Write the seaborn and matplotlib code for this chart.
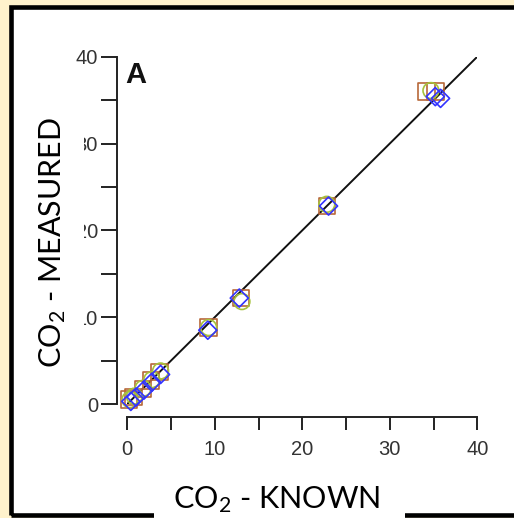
import matplotlib
matplotlib.use("Agg")
import matplotlib.pyplot as plt
import seaborn as sns
import numpy as np
import pandas as pd
from matplotlib.patches import Rectangle
from matplotlib.ticker import FixedLocator

# ---- data ----
sq_known = [0.2, 0.7, 1.8, 2.7, 3.7, 9.3, 13.0, 22.8, 34.2, 35.2]
sq_meas = [0.5, 0.8, 1.7, 2.7, 3.7, 8.8, 12.2, 22.8, 36.0, 36.0]
ci_known = [0.3, 0.8, 1.8, 2.8, 3.8, 9.3, 13.1, 22.8, 34.7]
ci_meas = [0.5, 0.9, 1.8, 2.8, 3.8, 8.8, 11.8, 23.0, 36.1]
di_known = [0.4, 1.0, 1.9, 2.8, 3.8, 9.2, 12.8, 23.0, 35.2, 35.8]
di_meas = [0.3, 0.8, 1.6, 2.5, 3.4, 8.5, 12.2, 22.8, 35.4, 35.2]
line_x = [0, 40]
line_y = [0, 40]
ticks = [0, 10, 20, 30, 40]
tick_labels = ["0", "10", "20", "30", "40"]
minor_ticks = [5, 15, 25, 35]
panel_label = "A"
xlabel = "CO$_2$ - KNOWN"
ylabel = "CO$_2$ - MEASURED"

W, H = 514, 518
sns.set_theme(style="ticks")
plt.rcParams["font.family"] = ["Liberation Sans", "DejaVu Sans"]
plt.rcParams["mathtext.fontset"] = "custom"
plt.rcParams["mathtext.rm"] = "Lato"
plt.rcParams["mathtext.it"] = "Lato:italic"
plt.rcParams["mathtext.bf"] = "Lato:bold"

fig = plt.figure(figsize=(W / 100, H / 100), dpi=100)
fig.patch.set_facecolor("#FFF2CC")


def fx(px):
    return px / W


def fy(py):
    return 1 - py / H


# white panel + black frame
x0, y0, x1, y1 = 10.8, 6.5, 560, 515
fig.add_artist(Rectangle((fx(x0), fy(y1)), fx(x1) - fx(x0), fy(y0) - fy(y1),
                         transform=fig.transFigure, facecolor="white",
                         edgecolor="none", zorder=-10))
fig.add_artist(Rectangle((fx(x0), fy(y1)), fx(x1) - fx(x0), fy(y0) - fy(y1),
                         transform=fig.transFigure, facecolor="none",
                         edgecolor="black", lw=3.3, zorder=5))

# axes
ax = fig.add_axes([fx(127.3), fy(404), fx(477.3) - fx(127.3), fy(56.7) - fy(404)])
ax.set_facecolor("none")

sns.lineplot(x=line_x, y=line_y, ax=ax, color="#111111", lw=1.4, zorder=2)

series = [
    (sq_known, sq_meas, "s", 140, "#B8683A"),
    (ci_known, ci_meas, "o", 130, "#A6C23C"),
    (di_known, di_meas, "D", 85, "#3333FF"),
]
for kx, my, mk, sz, col in series:
    sns.scatterplot(x=kx, y=my, ax=ax, marker=mk, s=sz, linewidth=1.2,
                    clip_on=False, zorder=3)
    coll = ax.collections[-1]
    coll.set_facecolor("none")
    coll.set_edgecolor(col)

ax.set_xlim(0, 40)
ax.set_ylim(0, 40)
ax.xaxis.set_major_locator(FixedLocator(ticks))
ax.yaxis.set_major_locator(FixedLocator(ticks))
ax.set_xticklabels(tick_labels)
ax.set_yticklabels(tick_labels)
ax.xaxis.set_minor_locator(FixedLocator(minor_ticks))
ax.yaxis.set_minor_locator(FixedLocator(minor_ticks))

sns.despine(ax=ax)
spc = "#222222"
for side, off in (("left", 7.6), ("bottom", 9.3)):
    sp = ax.spines[side]
    sp.set_position(("outward", off))
    sp.set_bounds(0, 40)
    sp.set_color(spc)
    sp.set_linewidth(1.4)
ax.tick_params(axis="y", which="both", length=11.5, width=1.4, color=spc,
               direction="out", pad=2, labelsize=14.5, labelcolor="#333333")
ax.tick_params(axis="x", which="both", length=9.6, width=1.4, color=spc,
               direction="out", pad=7, labelsize=14.5, labelcolor="#333333")
ax.set_xlabel("")
ax.set_ylabel("")

# panel letter
fig.text(fx(125), fy(83), panel_label, fontsize=21, fontweight="bold",
         family="Liberation Sans", ha="left", va="baseline", color="#111111")

# label font size fitted to reference width
renderer = fig.canvas.get_renderer()
tmp = fig.text(0, 0, xlabel, fontsize=20, family="Lato")
wpx = tmp.get_window_extent(renderer).width
tmp.remove()
lab_fs = 20 * 207 / wpx

# white boxes behind labels
fig.add_artist(Rectangle((fx(14), fy(385)), fx(84.2) - fx(14), fy(108) - fy(385),
                         transform=fig.transFigure, facecolor="white",
                         edgecolor="none", zorder=4))
fig.add_artist(Rectangle((fx(154), fy(525)), fx(405) - fx(154), fy(470) - fy(525),
                         transform=fig.transFigure, facecolor="white",
                         edgecolor="none", zorder=6))

fig.text(fx(276.5), fy(508), xlabel, fontsize=lab_fs, family="Lato",
         ha="center", va="baseline", color="black", zorder=7)

tmp = fig.text(0, 0, ylabel, fontsize=lab_fs, family="Lato")
ylen = tmp.get_window_extent(renderer).width
tmp.remove()
fig.text(fx(61), fy(117 + ylen / 2), ylabel, fontsize=lab_fs, family="Lato",
         rotation=90, rotation_mode="anchor", ha="center", va="baseline",
         color="black", zorder=7)

fig.savefig("out.png", dpi=100, facecolor=fig.get_facecolor())
